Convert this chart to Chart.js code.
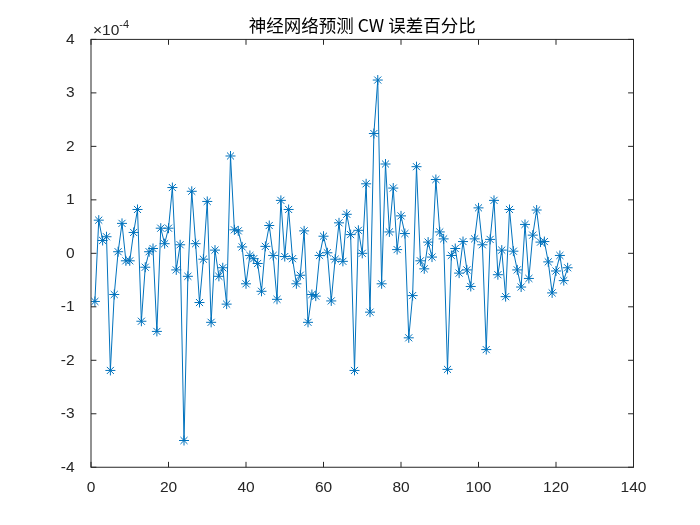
<!DOCTYPE html>
<html>
<head>
<meta charset="utf-8">
<script src="https://cdn.jsdelivr.net/npm/chart.js@4"></script>
<style>
  body { margin: 0; background: #fff; }
  canvas { display: block; }
</style>
</head>
<body>
<canvas id="myChart" width="700" height="525"></canvas>
<script>
// values are in units of 1e-4 (the axis shows "x10^-4")
var sampleIndex = [];
for (var i = 1; i <= 123; i++) sampleIndex.push(i);

var errorPercent = [
  -0.90, 0.62, 0.24, 0.31, -2.19, -0.77, 0.03, 0.56, -0.14, -0.14,
  0.39, 0.82, -1.27, -0.26, 0.03, 0.09, -1.46, 0.47, 0.18, 0.47,
  1.23, -0.31, 0.16, -3.50, -0.43, 1.16, 0.18, -0.92, -0.11, 0.97,
  -1.29, 0.06, -0.43, -0.27, -0.95, 1.82, 0.44, 0.42, 0.12, -0.57,
  -0.04, -0.10, -0.19, -0.71, 0.13, 0.52, -0.04, -0.86, 0.99, -0.06,
  0.82, -0.10, -0.57, -0.41, 0.42, -1.29, -0.77, -0.80, -0.04, 0.32,
  0.01, -0.89, -0.11, 0.57, -0.15, 0.73, 0.35, -2.19, 0.43, 0.00,
  1.30, -1.10, 2.24, 3.24, -0.57, 1.67, 0.40, 1.22, 0.07, 0.70,
  0.37, -1.58, -0.79, 1.62, -0.14, -0.29, 0.21, -0.07, 1.38, 0.40,
  0.27, -2.17, -0.04, 0.09, -0.37, 0.22, -0.31, -0.62, 0.27, 0.85,
  0.16, -1.80, 0.26, 0.99, -0.40, 0.06, -0.81, 0.82, 0.04, -0.31,
  -0.63, 0.54, -0.47, 0.34, 0.81, 0.21, 0.22, -0.16, -0.74, -0.33,
  -0.04, -0.51, -0.27
];

var xTicks = [0, 20, 40, 60, 80, 100, 120, 140];
var yTicks = [-4, -3, -2, -1, 0, 1, 2, 3, 4];
var titleText = '神经网络预测 CW 误差百分比';

var axisColor = '#262626';
var lineColor = '#0072BD';
var tickFont = '"Liberation Sans", Arial, sans-serif';

var points = sampleIndex.map(function (x, k) { return { x: x, y: errorPercent[k] }; });

// box, inward ticks on all four sides, title and exponent label
var matlabAxes = {
  id: 'matlabAxes',
  afterDraw: function (chart) {
    var ctx = chart.ctx;
    var a = chart.chartArea;
    var xs = chart.scales.x, ys = chart.scales.y;
    var tl = 5.4;
    ctx.save();
    ctx.strokeStyle = axisColor;
    ctx.lineWidth = 1;
    ctx.strokeRect(a.left, a.top, a.right - a.left, a.bottom - a.top);
    ctx.beginPath();
    xTicks.forEach(function (t) {
      var px = xs.getPixelForValue(t);
      ctx.moveTo(px, a.bottom); ctx.lineTo(px, a.bottom - tl);
      ctx.moveTo(px, a.top); ctx.lineTo(px, a.top + tl);
    });
    yTicks.forEach(function (t) {
      var py = ys.getPixelForValue(t);
      ctx.moveTo(a.left, py); ctx.lineTo(a.left + tl, py);
      ctx.moveTo(a.right, py); ctx.lineTo(a.right - tl, py);
    });
    ctx.stroke();

    // title
    ctx.fillStyle = '#000';
    ctx.font = '17.5px "Noto Sans CJK SC", "Liberation Sans", sans-serif';
    ctx.textAlign = 'center';
    ctx.textBaseline = 'middle';
    ctx.fillText(titleText, (a.left + a.right) / 2, 25);

    // x10^-4
    ctx.fillStyle = axisColor;
    ctx.textAlign = 'left';
    ctx.textBaseline = 'alphabetic';
    ctx.font = '15.5px ' + tickFont;
    ctx.fillText('\u00d710', a.left + 2, 35);
    var w = ctx.measureText('\u00d710').width;
    ctx.font = '11px ' + tickFont;
    ctx.fillText('-4', a.left + 2 + w, 28);
    ctx.restore();
  }
};

var ctx = document.getElementById('myChart').getContext('2d');
var chart = new Chart(ctx, {
  type: 'line',
  data: {
    datasets: [{
      data: points,
      borderColor: lineColor,
      borderWidth: 1,
      pointStyle: 'star',
      pointRadius: 5,
      pointBorderColor: lineColor,
      pointBorderWidth: 1,
      pointBackgroundColor: lineColor,
      tension: 0,
      fill: false
    }]
  },
  options: {
    responsive: false,
    animation: false,
    layout: { padding: { top: 39.4, right: 66.5, left: 0, bottom: 0 } },
    plugins: { legend: { display: false }, tooltip: { enabled: false }, title: { display: false } },
    scales: {
      x: {
        type: 'linear',
        min: 0, max: 140,
        afterFit: function (s) { s.height = 57.75; },
        afterBuildTicks: function (s) { s.ticks = xTicks.map(function (v) { return { value: v }; }); },
        grid: { display: false },
        border: { display: false },
        ticks: { color: axisColor, padding: 3, maxRotation: 0, font: { family: tickFont, size: 15.5 } }
      },
      y: {
        type: 'linear',
        min: -4, max: 4,
        afterFit: function (s) { s.width = 91; },
        afterBuildTicks: function (s) { s.ticks = yTicks.map(function (v) { return { value: v }; }); },
        grid: { display: false },
        border: { display: false },
        ticks: { color: axisColor, padding: 8.5, font: { family: tickFont, size: 15.5 } }
      }
    }
  },
  plugins: [matlabAxes]
});
</script>
</body>
</html>
